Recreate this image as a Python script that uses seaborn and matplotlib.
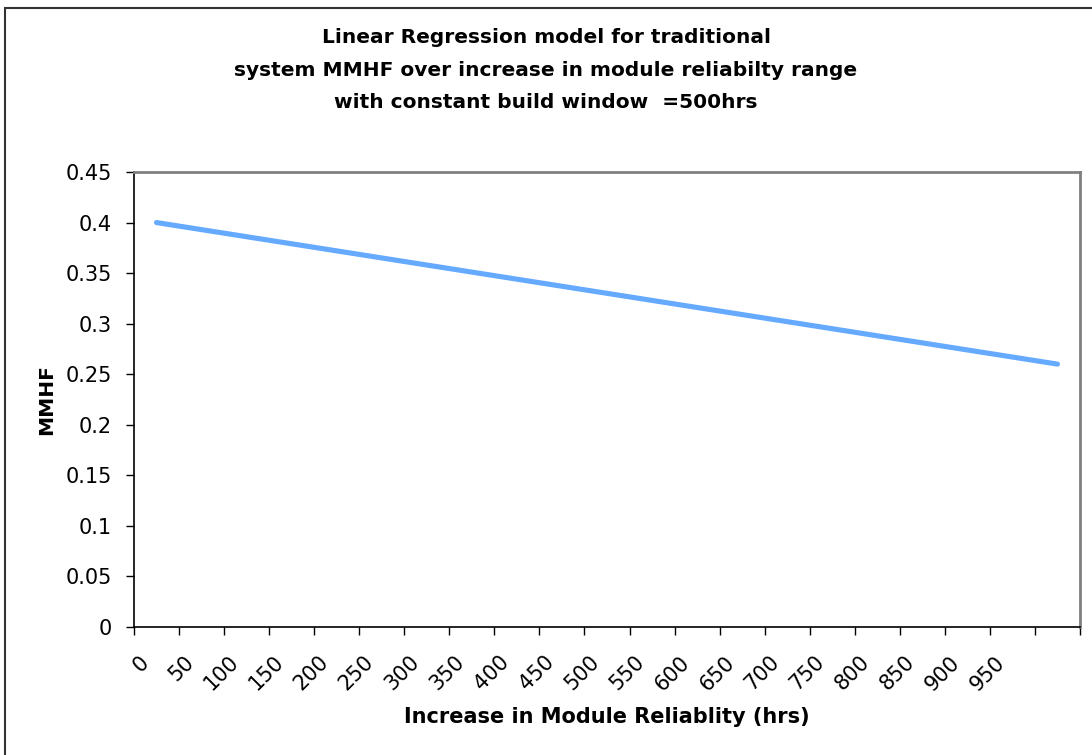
import numpy as np
import pandas as pd
import seaborn as sns
import matplotlib.pyplot as plt
from matplotlib.patches import Rectangle

# data (21 categories, last one unlabeled)
reliability = ['0', '50', '100', '150', '200', '250', '300', '350', '400', '450',
               '500', '550', '600', '650', '700', '750', '800', '850', '900', '950', '']
mmhf = [0.400, 0.393, 0.386, 0.379, 0.372, 0.365, 0.358, 0.351, 0.344, 0.337, 0.330,
        0.323, 0.316, 0.309, 0.302, 0.295, 0.288, 0.281, 0.274, 0.267, 0.260]
y_ticks = [0, 0.05, 0.1, 0.15, 0.2, 0.25, 0.3, 0.35, 0.4, 0.45]
y_labels = ['0', '0.05', '0.1', '0.15', '0.2', '0.25', '0.3', '0.35', '0.4', '0.45']

df = pd.DataFrame({'pos': np.arange(len(mmhf)), 'MMHF': mmhf})

sns.set_style('white')
plt.rcParams['font.family'] = ['DejaVu Sans']
plt.rcParams['text.color'] = 'black'
plt.rcParams['axes.labelcolor'] = 'black'
plt.rcParams['xtick.color'] = 'black'
plt.rcParams['ytick.color'] = 'black'

W, H = 1092, 755
fig = plt.figure(figsize=(W / 100, H / 100), dpi=100)
ax = fig.add_axes([134 / W, 1 - 627 / H, (1080 - 134) / W, (627 - 172) / H])

sns.lineplot(data=df, x='pos', y='MMHF', ax=ax, color='#66aaff', linewidth=3.7,
             solid_capstyle='round')

n = len(mmhf)
ax.set_xlim(-0.5, n - 0.5)
ax.set_ylim(0, 0.45)
ax.set_yticks(y_ticks)
ax.set_yticklabels(y_labels, fontsize=15)
ax.tick_params(axis='y', direction='out', length=6, width=1, left=True, pad=10)

# category labels near centres, tick marks at boundaries
ax.set_xticks(np.arange(n) - 0.4)
ax.set_xticklabels(reliability, rotation=45, ha='right', rotation_mode='anchor', fontsize=15)
ax.tick_params(axis='x', which='major', length=0, pad=18)
ax.set_xticks(np.arange(n + 1) - 0.5, minor=True)
ax.tick_params(axis='x', which='minor', direction='out', length=6, width=1, bottom=True)

for side in ['top', 'right']:
    ax.spines[side].set_color('#808080')
    ax.spines[side].set_linewidth(2)
for side in ['left', 'bottom']:
    ax.spines[side].set_color('black')
    ax.spines[side].set_linewidth(1.2)

ax.set_xlabel('Increase in Module Reliablity (hrs)', fontsize=15, fontweight='bold', labelpad=9)
ax.set_ylabel('MMHF', fontsize=14.5, fontweight='bold', labelpad=7)

fig.text(0.5, 1 - 70 / H,
         'Linear Regression model for traditional\n'
         'system MMHF over increase in module reliabilty range\n'
         'with constant build window  =500hrs',
         ha='center', va='center', fontsize=14.5, fontweight='bold', linespacing=1.9)

fig.patches.append(Rectangle((5 / W, -0.1), 1.2, 1 - 8 / H + 0.1, transform=fig.transFigure,
                             fill=False, edgecolor='#333333', linewidth=1.5))

fig.savefig('out.png', dpi=100)
